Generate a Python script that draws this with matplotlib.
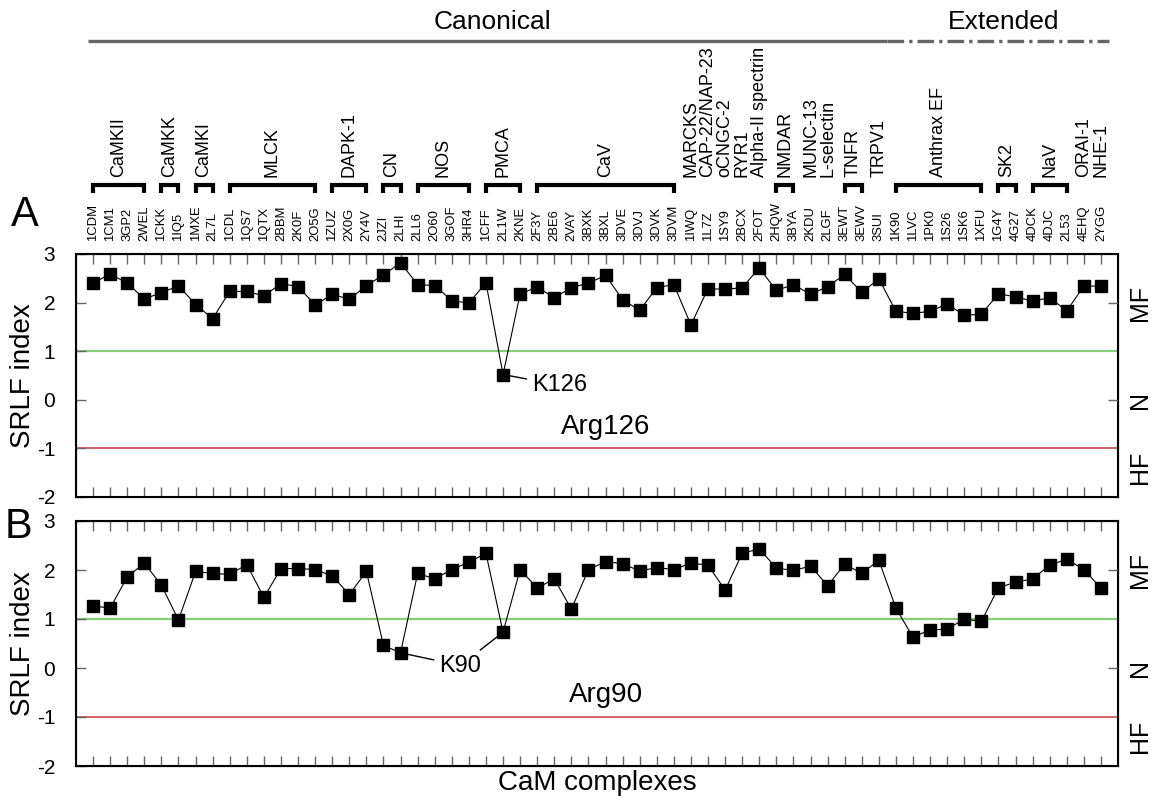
import numpy as np
import matplotlib
matplotlib.use('Agg')
import matplotlib.pyplot as plt

plt.rcParams['font.family'] = ['Liberation Sans', 'DejaVu Sans']
plt.rcParams['axes.unicode_minus'] = False

# PDB codes of the CaM complexes
pdb_codes = ['1CDM', '1CM1', '3GP2', '2WEL', '1CKK', '1IQ5', '1MXE', '2L7L',
             '1CDL', '1QS7', '1QTX', '2BBM', '2K0F', '2O5G', '1ZUZ', '2X0G',
             '2Y4V', '2JZI', '2LHI', '2LL6', '2O60', '3GOF', '3HR4', '1CFF',
             '2L1W', '2KNE', '2F3Y', '2BE6', '2VAY', '3BXK', '3BXL', '3DVE',
             '3DVJ', '3DVK', '3DVM', '1IWQ', '1L7Z', '1SY9', '2BCX', '2FOT',
             '2HQW', '3BYA', '2KDU', '2LGF', '3EWT', '3EWV', '3SUI', '1K90',
             '1LVC', '1PK0', '1S26', '1SK6', '1XFU', '1G4Y', '4G27', '4DCK',
             '4DJC', '2L53', '4EHQ', '2YGG']

# target groups and how many complexes each holds
group_names = ['CaMKII', 'CaMKK', 'CaMKI', 'MLCK', 'DAPK-1', 'CN', 'NOS', 'PMCA',
               'CaV', 'MARCKS', 'CAP-22/NAP-23', 'oCNGC-2', 'RYR1',
               'Alpha-II spectrin', 'NMDAR', 'MUNC-13', 'L-selectin', 'TNFR',
               'TRPV1', 'Anthrax EF', 'SK2', 'NaV', 'ORAI-1', 'NHE-1']
group_sizes = [4, 2, 2, 6, 3, 2, 4, 3, 9, 1, 1, 1, 1, 1, 2, 1, 1, 2, 1, 6, 2, 3, 1, 1]

# class split: canonical / extended
class_names = ['Canonical', 'Extended']
class_sizes = [47, 13]

# SRLF index, Arg126
srlf_126 = [2.40, 2.59, 2.40, 2.08, 2.20, 2.35, 1.96, 1.67, 2.23, 2.23,
            2.14, 2.39, 2.33, 1.95, 2.17, 2.07, 2.35, 2.57, 2.82, 2.37,
            2.35, 2.04, 1.99, 2.41, 0.52, 2.18, 2.32, 2.10, 2.31, 2.40,
            2.56, 2.06, 1.84, 2.31, 2.37, 1.54, 2.29, 2.27, 2.31, 2.71,
            2.25, 2.37, 2.17, 2.33, 2.58, 2.21, 2.49, 1.82, 1.78, 1.82,
            1.97, 1.74, 1.76, 2.18, 2.12, 2.03, 2.10, 1.83, 2.34, 2.34]

# SRLF index, Arg90
srlf_90 = [1.27, 1.22, 1.86, 2.14, 1.69, 0.98, 1.97, 1.93, 1.91, 2.11,
           1.44, 2.03, 2.03, 2.01, 1.88, 1.50, 1.97, 0.46, 0.31, 1.93,
           1.82, 2.01, 2.16, 2.34, 0.73, 2.01, 1.63, 1.82, 1.20, 2.01,
           2.17, 2.13, 1.98, 2.05, 2.01, 2.14, 2.10, 1.59, 2.34, 2.43,
           2.04, 1.99, 2.08, 1.68, 2.12, 1.93, 2.20, 1.22, 0.63, 0.78,
           0.79, 1.00, 0.95, 1.64, 1.75, 1.82, 2.10, 2.22, 2.01, 1.63]

n = len(pdb_codes)
x = np.arange(n)

W, H = 1158, 801
fig = plt.figure(figsize=(W / 100, H / 100), dpi=100)

x0, x1 = 76, 1118
def px_axes(top, bottom):
    return [x0 / W, 1 - bottom / H, (x1 - x0) / W, (bottom - top) / H]

axA = fig.add_axes(px_axes(254, 497))
axB = fig.add_axes(px_axes(521, 766))

tick_col = '#666666'


def panel(ax, vals, name):
    ax.axhline(1, color='#86cf77', lw=1.6, zorder=1)
    ax.axhline(-1, color='#c8383c', lw=1.1, zorder=1)
    ax.plot(x, vals, color='black', lw=0.8, marker='s', ms=8.5, zorder=3)
    ax.set_xlim(-1, n)
    ax.set_ylim(-2, 3)
    ax.set_xticks(x)
    ax.set_xticklabels([])
    ax.set_yticks(range(-2, 4))
    ax.tick_params(axis='x', direction='in', top=True, bottom=True,
                   length=7, width=1, color=tick_col)
    ax.tick_params(axis='y', direction='in', length=7, width=1,
                   color=tick_col, labelsize=15, pad=15)
    for s in ax.spines.values():
        s.set_linewidth(1.5)
    # right side ticks and MF / N / HF labels
    ax2 = ax.twinx()
    ax2.set_ylim(-2, 3)
    ax2.set_yticks([2, 0])
    ax2.tick_params(axis='y', direction='in', length=7, width=1,
                    color=tick_col, labelright=False)
    for lab, yv in zip(['MF', 'N', 'HF'], [2, 0, -1.4]):
        ax.text(1.021, yv, lab, transform=ax.get_yaxis_transform(),
                rotation=90, ha='center', va='center', fontsize=18)
    ax.text(-0.051, 0.5, 'SRLF index', transform=ax.transAxes, rotation=90,
            ha='center', va='center', fontsize=20)
    ax.text(30, -0.56, name, ha='center', va='center', fontsize=20)


panel(axA, srlf_126, 'Arg126')
panel(axB, srlf_90, 'Arg90')

arr = dict(arrowstyle='-', color='black', lw=1.0, shrinkA=2, shrinkB=0)
axA.annotate('K126', xy=(24, srlf_126[24]), xytext=(25.7, 0.30),
             ha='left', va='center', fontsize=17, arrowprops=arr)
axB.annotate('K90', xy=(18, srlf_90[18]), xytext=(21.5, 0.05),
             ha='center', va='center', fontsize=17, arrowprops=arr)
axB.annotate('K90', xy=(24, srlf_90[24]), xytext=(21.5, 0.05),
             ha='center', va='center', fontsize=17, color='none',
             arrowprops=arr)

axB.text(0.5, -0.07, 'CaM complexes', transform=axB.transAxes,
         ha='center', va='center', fontsize=20)

fig.text(25 / W, 1 - 215 / H, 'A', ha='center', va='center', fontsize=30)
fig.text(18 / W, 1 - 527 / H, 'B', ha='center', va='center', fontsize=30)

# header axes: data x, pixel y from the top of the figure
axT = fig.add_axes(px_axes(0, 254))
axT.set_xlim(-1, n)
axT.set_ylim(254, 0)
axT.axis('off')

for i, code in enumerate(pdb_codes):
    axT.text(i, 241, code, rotation=90, ha='center', va='bottom', fontsize=9.4)

start = 0
for name, size in zip(group_names, group_sizes):
    end = start + size - 1
    if size > 1:
        axT.plot([start, start, end, end], [193, 185, 185, 193], color='black',
                 lw=3, solid_joinstyle='miter', solid_capstyle='butt')
    axT.text((start + end) / 2, 177, name, rotation=90, ha='center',
             va='bottom', fontsize=13)
    start = end + 1

c_start = 0
styles = ['-', (0, (5, 1.5, 1, 1.5))]
for name, size, ls in zip(class_names, class_sizes, styles):
    a = c_start - 0.3 if c_start == 0 else c_start - 0.5
    b = c_start + size - 0.5
    axT.plot([a, b], [40.7, 40.7], color='#666666', lw=2.4, ls=ls,
             solid_capstyle='butt')
    axT.text((a + b) / 2 + 0.3, 22, name, ha='center', va='center', fontsize=19)
    c_start += size

fig.savefig('out.png', dpi=100)
